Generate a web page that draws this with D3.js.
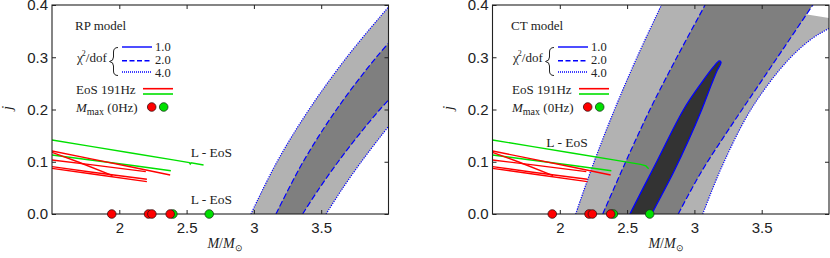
<!DOCTYPE html>
<html><head><meta charset="utf-8">
<script src="https://cdn.jsdelivr.net/npm/d3@7/dist/d3.min.js"></script>
<style>body{margin:0;background:#fff}</style>
</head><body><svg id="c" width="830" height="258"></svg>
<script>
// ---------------- data ----------------
const xTicks = [2, 2.5, 3, 3.5];
const yTicks = [0, 0.1, 0.2, 0.3, 0.4];
const redMmax = [1.944, 2.217, 2.242, 2.378];
const greenMmax = [2.398, 2.668];

// EoS curves at 191 Hz: [M, j]
const redEoS = [
  [[1.5,0.1206],[1.8,0.1050],[2.1,0.0895],[2.378,0.0746]],
  [[1.5,0.1180],[1.7,0.0990],[1.95,0.0733]],
  [[1.5,0.1033],[1.8,0.0940],[2.197,0.0810]],
  [[1.5,0.0906],[1.8,0.0800],[2.205,0.0664]],
  [[1.5,0.0874],[1.8,0.0765],[2.205,0.0619]]
];
const greenLower = [[1.5,0.1129],[1.8,0.1030],[2.1,0.0928],[2.383,0.0829]];
const greenUpperRP = [[1.5,0.1416],[1.8,0.1290],[2.1,0.1162],[2.4,0.1035],[2.52,0.0984],[2.527,0.0958],[2.533,0.0980],[2.626,0.0938]];
const greenUpperCT = [[1.5,0.1416],[1.8,0.1290],[2.1,0.1162],[2.4,0.1035],[2.6,0.0950],[2.64,0.0920],[2.66,0.0865]];

// chi^2/dof contour boundaries: [M, j]
const rpChi4Left  = [[2.978,0],[3.172,0.1],[3.410,0.2],[3.690,0.3],[4.013,0.4],[4.10,0.425]];
const rpChi2Left  = [[3.164,0],[3.366,0.1],[3.614,0.2],[3.909,0.3],[4.10,0.355]];
const rpChi2Right = [[3.362,0],[3.488,0.05],[3.626,0.1],[3.775,0.15],[3.936,0.2],[4.10,0.245]];
const rpChi4Right = [[3.536,0],[3.661,0.05],[3.798,0.1],[3.946,0.15],[4.10,0.2]];

const ctChi4Left  = [[2.118,0],[2.255,0.1],[2.407,0.2],[2.574,0.3],[2.755,0.4],[2.80,0.425]];
const ctChi2Left  = [[2.319,0],[2.490,0.1],[2.670,0.2],[2.870,0.3],[3.079,0.4],[3.13,0.425]];
const ctChi2Right = [[2.880,0],[3.050,0.08],[3.250,0.16],[3.460,0.24],[3.670,0.32],[3.880,0.4],[3.960,0.43]];
const ctChi4Right = [[3.062,0],[3.203,0.09],[3.420,0.2],[3.680,0.29],[3.870,0.335],[4.0,0.355],[4.12,0.37]];
const ctChi1 = [[2.50,-0.012],[2.5215,0],[2.72,0.1],[2.92,0.2],[3.05,0.25],[3.14,0.281],[3.185,0.293],[3.198,0.290],
                [3.17,0.275],[3.13,0.25],[3.055,0.2],[2.955,0.14],[2.845,0.08],[2.683,0],[2.66,-0.012]];

// ---------------- drawing ----------------
const svg = d3.select('#c');
const TOP = 5, BOT = 214;
const panels = [
  {key:'RP', left:52, right:388.5, lx:75, title:'RP model',
   bands:[rpChi4Left, rpChi4Right, rpChi2Left, rpChi2Right], chi1:null, green:greenUpperRP,
   labels:[{t:'L - EoS', m:2.53, j:0.109},{t:'L - EoS', m:2.53, j:0.019}], xl:225},
  {key:'CT', left:492.5, right:829, lx:511, title:'CT model',
   bands:[ctChi4Left, ctChi4Right, ctChi2Left, ctChi2Right], chi1:ctChi1, green:greenUpperCT,
   labels:[{t:'L - EoS', m:1.90, j:0.128}], xl:666}
];
const LIGHT='#b2b2b2', MID='#7f7f7f', DARK='#333333', BLUE='#0000ff';
const RED='#ff0000', GREEN='#00e000';

panels.forEach(p => {
  const x = d3.scaleLinear().domain([1.5,4]).range([p.left,p.right]);
  const y = d3.scaleLinear().domain([0,0.4]).range([BOT,TOP]);
  const line = d3.line().x(d=>x(d[0])).y(d=>y(d[1])).curve(d3.curveCatmullRom);
  const band = (a,b) => line(a) + line(b.slice().reverse()).replace(/^M/,'L') + 'Z';

  svg.append('clipPath').attr('id','clip'+p.key).append('rect')
     .attr('x',p.left).attr('y',TOP).attr('width',p.right-p.left).attr('height',BOT-TOP);
  const g = svg.append('g').attr('clip-path',`url(#clip${p.key})`);

  const [l4,r4,l2,r2] = p.bands;
  g.append('path').attr('d',band(l4,r4)).attr('fill',LIGHT);
  g.append('path').attr('d',band(l2,r2)).attr('fill',MID);
  if (p.chi1) g.append('path').attr('d',line(p.chi1)+'Z').attr('fill',DARK);
  [l4,r4].forEach(c=>g.append('path').attr('d',line(c)).attr('fill','none')
      .attr('stroke',BLUE).attr('stroke-width',1.2).attr('stroke-dasharray','1.2,1.2'));
  [l2,r2].forEach(c=>g.append('path').attr('d',line(c)).attr('fill','none')
      .attr('stroke',BLUE).attr('stroke-width',1.2).attr('stroke-dasharray','6,2.5'));
  if (p.chi1) g.append('path').attr('d',line(p.chi1)).attr('fill','none')
      .attr('stroke',BLUE).attr('stroke-width',1.3);

  // EoS curves
  const eLine = d3.line().x(d=>x(d[0])).y(d=>y(d[1]));
  [greenLower, p.green].forEach(c=>g.append('path').attr('d',eLine(c)).attr('fill','none')
      .attr('stroke',GREEN).attr('stroke-width',1.4));
  redEoS.forEach(c=>g.append('path').attr('d',eLine(c)).attr('fill','none')
      .attr('stroke',RED).attr('stroke-width',1.4));

  p.labels.forEach(L=>svg.append('text').attr('x',x(L.m)).attr('y',y(L.j))
      .attr('font-family','Liberation Serif').attr('font-size',13.5).attr('fill','#222').text(L.t));

  // frame and ticks
  const ax = svg.append('g').attr('font-family','Liberation Sans');
  ax.append('rect').attr('x',p.left).attr('y',TOP).attr('width',p.right-p.left).attr('height',BOT-TOP)
    .attr('fill','none').attr('stroke','#222').attr('stroke-width',1.1);
  const xb = ax.append('g').attr('transform',`translate(0,${BOT})`)
    .call(d3.axisBottom(x).tickValues(xTicks).tickSize(-4).tickPadding(8).tickFormat(d3.format('')));
  const xt = ax.append('g').attr('transform',`translate(0,${TOP})`)
    .call(d3.axisTop(x).tickValues(xTicks).tickSize(-4).tickFormat(''));
  const yl = ax.append('g').attr('transform',`translate(${p.left},0)`)
    .call(d3.axisLeft(y).tickValues(yTicks).tickSize(-4).tickPadding(4).tickFormat(d3.format('.1f')));
  const yr = ax.append('g').attr('transform',`translate(${p.right},0)`)
    .call(d3.axisRight(y).tickValues(yTicks).tickSize(-4).tickFormat(''));
  [xb,xt,yl,yr].forEach(a=>{a.select('.domain').remove();
    a.selectAll('line').attr('stroke','#222'); a.selectAll('text').attr('font-size',15)
     .attr('font-family','Liberation Sans').attr('fill','#222');});

  // Mmax dots on j=0
  greenMmax.forEach(m=>svg.append('circle').attr('cx',x(m)).attr('cy',y(0)).attr('r',4.3)
     .attr('fill',GREEN).attr('stroke','#1a3a1a').attr('stroke-width',0.8));
  redMmax.forEach(m=>svg.append('circle').attr('cx',x(m)).attr('cy',y(0)).attr('r',4.3)
     .attr('fill',RED).attr('stroke','#3a1010').attr('stroke-width',0.8));

  // axis titles
  const xt2 = svg.append('text').attr('x',p.xl).attr('y',248).attr('text-anchor','middle')
     .attr('font-family','Liberation Serif').attr('font-size',14).attr('fill','#222');
  xt2.append('tspan').attr('font-style','italic').text('M');
  xt2.append('tspan').text('/');
  xt2.append('tspan').attr('font-style','italic').text('M');
  xt2.append('tspan').attr('font-size',9).attr('dy',3).text('⊙');
  svg.append('text').attr('transform',`translate(${p.left-40},108) rotate(-90)`).attr('text-anchor','middle')
     .attr('font-family','Liberation Serif').attr('font-style','italic').attr('font-size',15)
     .attr('fill','#222').text('j');

  // legend
  const lg = svg.append('g').attr('font-family','Liberation Serif').attr('font-size',13).attr('fill','#222');
  const X = p.lx;
  lg.append('text').attr('x',X).attr('y',30).text(p.title);
  const chi = lg.append('text').attr('x',X+2).attr('y',62);
  chi.append('tspan').text('χ');
  chi.append('tspan').attr('font-size',8).attr('dy',-6).attr('dx',-1).text('2');
  chi.append('tspan').attr('dy',6).text('/dof');
  lg.append('path').attr('d',`M${X+43},47.5 Q${X+38.5},47.5 ${X+38.5},52 L${X+38.5},57 Q${X+38.5},61 ${X+34.5},61.5 Q${X+38.5},62 ${X+38.5},66 L${X+38.5},71 Q${X+38.5},75.5 ${X+43},75.5`)
     .attr('fill','none').attr('stroke','#222').attr('stroke-width',1);
  const lx0 = X+47, lx1 = X+77;
  lg.append('line').attr('x1',lx0).attr('x2',lx1).attr('y1',47).attr('y2',47).attr('stroke',BLUE).attr('stroke-width',1.4);
  lg.append('line').attr('x1',lx0).attr('x2',lx1).attr('y1',60.7).attr('y2',60.7).attr('stroke',BLUE).attr('stroke-width',1.4).attr('stroke-dasharray','5,2.5');
  lg.append('line').attr('x1',lx0).attr('x2',lx1).attr('y1',72).attr('y2',72).attr('stroke',BLUE).attr('stroke-width',1.4).attr('stroke-dasharray','1,1');
  lg.append('text').attr('x',X+80).attr('y',50.7).attr('font-size',12.5).text('1.0');
  lg.append('text').attr('x',X+80).attr('y',64.3).attr('font-size',12.5).text('2.0');
  lg.append('text').attr('x',X+80).attr('y',76.7).attr('font-size',12.5).text('4.0');
  lg.append('text').attr('x',X+1).attr('y',94.3).text('EoS 191Hz');
  lg.append('line').attr('x1',X+68).attr('x2',X+98).attr('y1',88.7).attr('y2',88.7).attr('stroke',RED).attr('stroke-width',1.6);
  lg.append('line').attr('x1',X+68).attr('x2',X+98).attr('y1',94).attr('y2',94).attr('stroke',GREEN).attr('stroke-width',1.6);
  const mm = lg.append('text').attr('x',X+1).attr('y',111.5);
  mm.append('tspan').attr('font-style','italic').text('M');
  mm.append('tspan').attr('font-size',10).attr('dy',3).text('max');
  mm.append('tspan').attr('dy',-3).text(' (0Hz)');
  lg.append('circle').attr('cx',X+76.7).attr('cy',107).attr('r',4.3).attr('fill',RED).attr('stroke','#3a1010').attr('stroke-width',0.8);
  lg.append('circle').attr('cx',X+88.7).attr('cy',107).attr('r',4.3).attr('fill',GREEN).attr('stroke','#1a3a1a').attr('stroke-width',0.8);
});
</script></body></html>
